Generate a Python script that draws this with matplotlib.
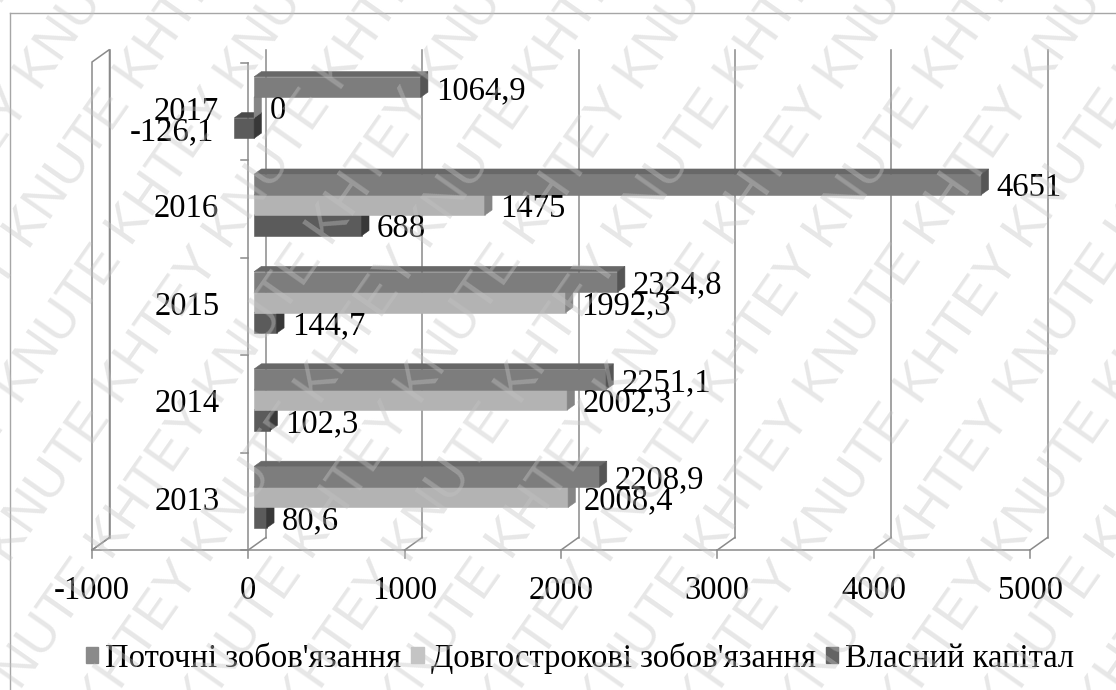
import matplotlib
matplotlib.use("Agg")
import matplotlib.pyplot as plt
from matplotlib.patches import Polygon, Patch
from matplotlib.lines import Line2D

# ---- data -------------------------------------------------------------
years = ["2013", "2014", "2015", "2016", "2017"]
current_liab = [2208.9, 2251.1, 2324.8, 4651, 1064.9]
longterm_liab = [2008.4, 2002.3, 1992.3, 1475, 0]
equity = [80.6, 102.3, 144.7, 688, -126.1]
series_names = ["Поточні зобов'язання", "Довгострокові зобов'язання", "Власний капітал"]
x_ticks = [-1000, 0, 1000, 2000, 3000, 4000, 5000]

# ---- styling ----------------------------------------------------------
FONT = "Liberation Serif"
FS = 23.5
GRID = "#8a8a8a"
# (front, top, side) shades for each series
SHADES = [
    ("#7d7d7d", "#686868", "#555555"),
    ("#b3b3b3", "#a0a0a0", "#858585"),
    ("#5b5b5b", "#4a4a4a", "#383838"),
]
LEGEND_COLORS = ["#8a8a8a", "#c4c4c4", "#646464"]

W, H = 1116, 690
fig = plt.figure(figsize=(W / 100, H / 100), dpi=100)
ax = fig.add_axes([0, 0, 1, 1])

# value axis runs along x, categories along y (one unit per category band)
X_LEFT_PX, X_RIGHT_PX = 92, 1030
FLOOR_PX = 550
BAND_PX = 97.4
sx = (X_RIGHT_PX - X_LEFT_PX) / (x_ticks[-1] - x_ticks[0])
xl = x_ticks[0] - X_LEFT_PX / sx
xr = xl + W / sx
yt = -0.5 + FLOOR_PX / BAND_PX
yb = yt - H / BAND_PX
ax.set_xlim(xl, xr)
ax.set_ylim(yb, yt)
ax.axis("off")

PX = 1.0 / sx          # one pixel in value units
PY = 1.0 / BAND_PX     # one pixel in category units
DX, DY = 17.5 * PX, 12.5 * PY   # depth of the 3-D box
n_cat = len(years)
y_floor = -0.5
y_top = n_cat - 0.5 + 1 * PY
xmin, xmax = x_ticks[0], x_ticks[-1]

lw = 1.1
# side wall at the left end of the value axis
ax.add_patch(Polygon([(xmin, y_floor), (xmin, y_top), (xmin + DX, y_top + DY),
                      (xmin + DX, y_floor + DY)], closed=True, fill=False,
                     edgecolor=GRID, lw=lw, zorder=1))
for t in x_ticks:
    # back-wall gridline
    ax.plot([t + DX, t + DX], [y_floor + DY, y_top + DY], color=GRID, lw=lw, zorder=1)
    # floor edge running into depth
    ax.plot([t, t + DX], [y_floor, y_floor + DY], color=GRID, lw=lw, zorder=1)
    # tick mark below the floor
    ax.plot([t, t], [y_floor, y_floor - 8 * PY], color=GRID, lw=lw, zorder=1)
    ax.text(t, y_floor - 41 * PY, f"{t}", ha="center", va="center",
            fontsize=FS, family=FONT, color="black", zorder=5)
ax.plot([xmin, xmax], [y_floor, y_floor], color=GRID, lw=lw, zorder=1)

# category axis at value 0
ax.plot([0, 0], [-0.5, n_cat - 0.5], color=GRID, lw=lw, zorder=1)
for k in range(n_cat + 1):
    ax.plot([-7 * PX, 0], [k - 0.5, k - 0.5], color=GRID, lw=lw, zorder=1)
for i, yr in enumerate(years):
    ax.text(-29 * PX, i, yr, ha="right", va="center", fontsize=FS,
            family=FONT, color="black", zorder=5)

# ---- 3-D bars ---------------------------------------------------------
f0, f1 = 0.33, 0.75
fdx, fdy = f0 * DX, f0 * DY
bdx, bdy = (f1 - f0) * DX, (f1 - f0) * DY
bar_h = 20.5 * PY
series = [current_liab, longterm_liab, equity]


def fmt(v):
    if float(v).is_integer():
        return f"{int(v)}"
    return f"{v:.1f}".replace(".", ",")


for i in range(n_cat):
    # draw bottom bar first so the bar above hides its top face
    for j in reversed(range(len(series))):
        v = series[j][i]
        x0, x1 = min(0, v), max(0, v)
        ylo = i + (0.5 - j) * bar_h + fdy
        yhi = ylo + bar_h
        fc, tc, sc = SHADES[j]
        front = [(x0 + fdx, ylo), (x1 + fdx, ylo), (x1 + fdx, yhi), (x0 + fdx, yhi)]
        top = [(x0 + fdx, yhi), (x1 + fdx, yhi), (x1 + fdx + bdx, yhi + bdy),
               (x0 + fdx + bdx, yhi + bdy)]
        side = [(x1 + fdx, ylo), (x1 + fdx + bdx, ylo + bdy),
                (x1 + fdx + bdx, yhi + bdy), (x1 + fdx, yhi)]
        for poly, c in ((front, fc), (top, tc), (side, sc)):
            ax.add_patch(Polygon(poly, closed=True, facecolor=c, edgecolor=c,
                                 lw=0.4, zorder=3))
        yc = (ylo + yhi) / 2
        if v >= 0:
            ax.text(x1 + fdx + bdx + 8 * PX, yc, fmt(v), ha="left",
                    va="center_baseline", fontsize=FS, family=FONT, zorder=6)
        else:
            ax.text(x0 + fdx - 20 * PX, yc, fmt(v), ha="right",
                    va="center_baseline", fontsize=FS, family=FONT, zorder=6)

# ---- legend -----------------------------------------------------------
handles = [Patch(facecolor=c, edgecolor=c) for c in LEGEND_COLORS]
fig.legend(handles, series_names, loc="center", bbox_to_anchor=(580 / W, 1 - 658 / H),
           ncol=3, frameon=False, prop={"family": FONT, "size": FS},
           handlelength=0.38, handleheight=0.38, handletextpad=0.22,
           columnspacing=0.3, borderpad=0, borderaxespad=0)

# chart-area border
fig.add_artist(Line2D([10 / W, 10 / W], [0, 1 - 13 / H], color="#a6a6a6", lw=1.0,
                      transform=fig.transFigure))
fig.add_artist(Line2D([10 / W, 1], [1 - 13 / H, 1 - 13 / H], color="#a6a6a6", lw=1.0,
                      transform=fig.transFigure))

# diagonal watermark
wm_words = ["KNUTE", "KHTEY"]
for k in range(-7, 12):
    start = wm_words[k % 2] + " " + wm_words[(k + 1) % 2] + " "
    fig.text((k * 100) / W, -30 / H, start * 3, rotation=55, rotation_mode="anchor",
             ha="left", va="baseline", fontsize=38, family="Liberation Sans",
             color="#c4c4c4", alpha=0.4, zorder=10)

fig.savefig("out.png", dpi=100, facecolor="white")
